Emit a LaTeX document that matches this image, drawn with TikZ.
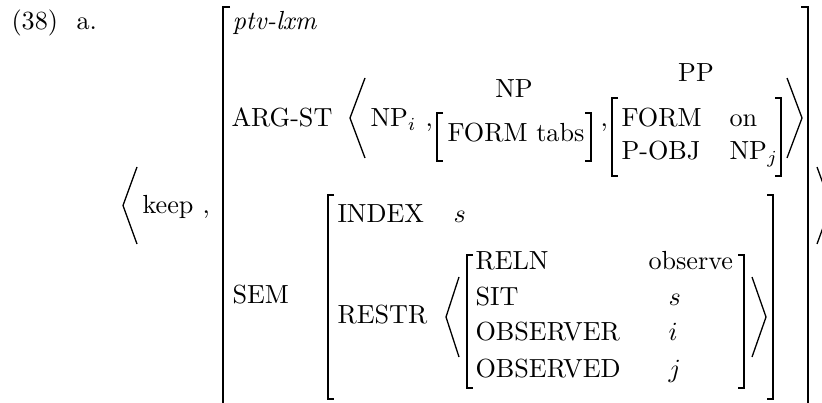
\documentclass[tikz,border=0pt]{standalone}
\usetikzlibrary{positioning}

\begin{document}
\begin{tikzpicture}[
  x=0.382pt, y=-0.382pt,
  txt/.style={inner sep=0pt, anchor=base west},
  lab/.style={inner sep=0pt, anchor=base},
  brk/.style={line width=0.5pt}
]
\path[use as bounding box, clip] (0,0) rectangle (822,402);
% example number
\node[txt] (num) at (11,30) {(38)};
\node[txt] (sub) at (76,30) {a.};
% outer list
\draw[brk] (137,167) -- (123,205.5) -- (137,244);
\node[txt] (keep) at (142,213) {keep};
\node[txt] (c0) at (202,213) {,};
\draw[brk] (817,167) -- (831,205.5) -- (817,244);
% outer matrix
\draw[brk] (230,7) -| (223,405) -- ++(7,0);
\draw[brk] (801,7) -| (808,405) -- ++(-7,0);
\node[txt] (type) at (232,30) {\textit{ptv-lxm}};
\node[txt] (argst) at (231,127) {ARG-ST};
\node[txt] (sem) at (232,303) {SEM};
% arg-st list
\draw[brk] (365,78) -- (350,118) -- (365,158);
\node[txt] (npi) at (370,127) {NP$_i$};
\node[txt] (c1) at (425,127) {,};
\draw[brk] (443,113) -| (437,161) -- ++(6,0);
\node[txt] (tabs) at (447,142) {FORM tabs};
\draw[brk] (585,113) -| (591,161) -- ++(-6,0);
\node[lab] (np) at (514,98) {NP};
\node[txt] (c2) at (600,127) {,};
\draw[brk] (618,98) -| (612,176) -- ++(6,0);
\node[txt] (form) at (621,127) {FORM};
\node[txt] (on) at (729,127) {on};
\node[txt] (pobj) at (621,160) {P-OBJ};
\node[txt] (npj) at (729,160) {NP$_j$};
\draw[brk] (775,98) -| (781,176) -- ++(-6,0);
\node[lab] (pp) at (696,82) {PP};
\draw[brk] (787,78) -- (802,118) -- (787,158);
% sem value
\draw[brk] (334,195) -| (328,399) -- ++(6,0);
\draw[brk] (767,195) -| (773,399) -- ++(-6,0);
\node[txt] (index) at (337,222) {INDEX};
\node[txt] (ixval) at (453,222) {$s$};
\node[txt] (restr) at (337,323) {RESTR};
\draw[brk] (459,277) -- (446,317) -- (459,357);
\draw[brk] (473,255) -| (467,388) -- ++(6,0);
\draw[brk] (738,255) -| (744,388) -- ++(-6,0);
\draw[brk] (752,277) -- (766,317) -- (752,357);
\node[txt] (reln) at (475,269) {RELN};
\node[txt] (relnval) at (648,269) {observe};
\node[txt] (sit) at (475,305) {SIT};
\node[txt] (sitval) at (668,305) {$s$};
\node[txt] (obsr) at (475,340) {OBSERVER};
\node[txt] (obsrval) at (668,340) {$i$};
\node[txt] (obsd) at (475,377) {OBSERVED};
\node[txt] (obsdval) at (668,377) {$j$};
\end{tikzpicture}
\end{document}
